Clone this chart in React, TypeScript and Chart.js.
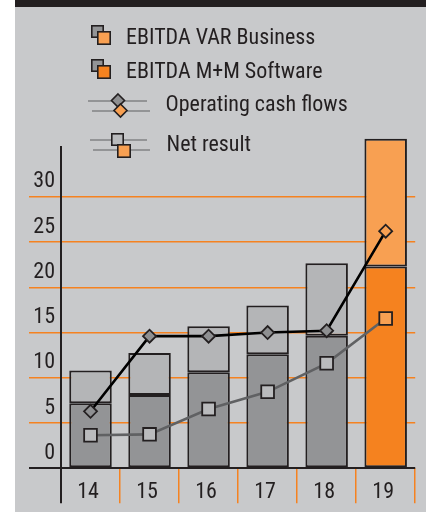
import React, { useEffect, useRef } from 'react';
import { Chart, registerables } from 'chart.js';

Chart.register(...registerables);

// ---- data ----
const YEARS = ['14', '15', '16', '17', '18', '19'];
const EBITDA_MM = [7.2, 8.1, 10.6, 12.6, 14.65, 22.3];
const EBITDA_VAR = [3.6, 4.65, 5.1, 5.4, 8.0, 14.1];
const OCF = [6.3, 14.6, 14.6, 15.0, 15.2, 26.2];
const NET_RESULT = [3.65, 3.75, 6.55, 8.45, 11.6, 16.55];
const Y_TICKS = [0, 5, 10, 15, 20, 25, 30];
const LABELS = ['EBITDA VAR Business', 'EBITDA M+M Software', 'Operating cash flows', 'Net result'];

// ---- styles ----
const DARK = '#231f20';
const BG = '#c8c9cb';
const GRAY_LIGHT = '#b4b5b7';
const GRAY_MID = '#939496';
const GRAY_LINE = '#606163';
const MARKER_GRAY = '#8e8f91';
const SQUARE_GRAY = '#babbbd';
const ORANGE = '#f5821f';
const ORANGE_LIGHT = '#f8a052';
const GRID_ORANGE = '#f58220';
const FAMILY = "Roboto, 'DejaVu Sans Condensed', sans-serif";
const STRETCH = 'condensed';
const CANVAS_FONT = `${STRETCH} 22px ${FAMILY}`;

const last = YEARS.length - 1;
const pick = (a: string, b: string) => YEARS.map((_, i) => (i === last ? b : a));

const decorPlugin = {
  id: 'decor',
  beforeDraw(chart: any) {
    const ctx = chart.ctx as CanvasRenderingContext2D;
    const W = chart.width;
    const H = chart.height;
    ctx.save();
    ctx.fillStyle = '#ffffff';
    ctx.fillRect(0, 0, W, H);
    ctx.fillStyle = BG;
    ctx.fillRect(15, 0, W - 15, H);
    ctx.fillStyle = DARK;
    ctx.fillRect(15, 0, W - 15, 7);
    ctx.restore();
  },
  afterDraw(chart: any) {
    const ctx = chart.ctx as CanvasRenderingContext2D;
    ctx.save();
    const sq = (x: number, y: number, s: number, fill: string) => {
      ctx.fillStyle = fill;
      ctx.fillRect(x, y, s, s);
      ctx.strokeStyle = DARK;
      ctx.lineWidth = 1.6;
      ctx.strokeRect(x + 0.8, y + 0.8, s - 1.6, s - 1.6);
    };
    const diamond = (cx: number, cy: number, r: number, fill: string) => {
      ctx.beginPath();
      ctx.moveTo(cx, cy - r);
      ctx.lineTo(cx + r, cy);
      ctx.lineTo(cx, cy + r);
      ctx.lineTo(cx - r, cy);
      ctx.closePath();
      ctx.fillStyle = fill;
      ctx.fill();
      ctx.strokeStyle = DARK;
      ctx.lineWidth = 1.6;
      ctx.stroke();
    };
    const hline = (x1: number, x2: number, y: number) => {
      ctx.beginPath();
      ctx.moveTo(x1, y);
      ctx.lineTo(x2, y);
      ctx.strokeStyle = GRAY_MID;
      ctx.lineWidth = 2;
      ctx.stroke();
    };
    // item 1
    sq(91, 25, 13, GRAY_MID);
    sq(97, 31, 14, ORANGE_LIGHT);
    // item 2
    sq(91, 59, 13, GRAY_MID);
    sq(97, 65, 14, ORANGE);
    // item 3
    hline(88, 147, 101);
    hline(92, 150, 111);
    diamond(118, 100.5, 6.5, MARKER_GRAY);
    diamond(120.5, 110.5, 6.5, ORANGE_LIGHT);
    // item 4
    hline(90, 147, 140);
    hline(93, 150, 150);
    sq(111, 133, 13, SQUARE_GRAY);
    sq(117, 144, 14, ORANGE_LIGHT);

    ctx.fillStyle = DARK;
    ctx.font = CANVAS_FONT;
    ctx.textAlign = 'left';
    ctx.textBaseline = 'alphabetic';
    ctx.fillText(LABELS[0], 126, 44);
    ctx.fillText(LABELS[1], 126, 77.5);
    ctx.fillText(LABELS[2], 165.5, 111);
    ctx.fillText(LABELS[3], 166.5, 150.5);
    ctx.restore();
  },
};

export default function App() {
  const ref = useRef<HTMLCanvasElement | null>(null);

  useEffect(() => {
    if (!ref.current) return;
    const tickFont = { family: FAMILY, size: 22, weight: STRETCH } as any;
    const chart = new Chart(ref.current, {
      type: 'bar',
      data: {
        labels: YEARS,
        datasets: [
          {
            type: 'line',
            label: LABELS[2],
            data: OCF,
            stack: 'ocf',
            order: 0,
            borderColor: '#000000',
            borderWidth: 2.6,
            pointStyle: 'rectRot',
            pointRadius: 6.5,
            pointBorderWidth: 1.8,
            pointBorderColor: DARK,
            pointBackgroundColor: pick(MARKER_GRAY, ORANGE_LIGHT),
            tension: 0,
          } as any,
          {
            type: 'line',
            label: LABELS[3],
            data: NET_RESULT,
            stack: 'net',
            order: 0,
            borderColor: GRAY_LINE,
            borderWidth: 2.6,
            pointStyle: 'rect',
            pointRadius: 9,
            pointBorderWidth: 1.8,
            pointBorderColor: DARK,
            pointBackgroundColor: pick(SQUARE_GRAY, ORANGE_LIGHT),
            tension: 0,
          } as any,
          {
            label: LABELS[1],
            data: EBITDA_MM,
            stack: 'ebitda',
            order: 1,
            backgroundColor: pick(GRAY_MID, ORANGE),
            borderColor: DARK,
            borderWidth: 2,
            borderSkipped: false,
            barPercentage: 0.72,
            categoryPercentage: 1,
            clip: false,
          } as any,
          {
            label: LABELS[0],
            data: EBITDA_VAR,
            stack: 'ebitda',
            order: 1,
            backgroundColor: pick(GRAY_LIGHT, ORANGE_LIGHT),
            borderColor: DARK,
            borderWidth: 2,
            borderSkipped: false,
            barPercentage: 0.72,
            categoryPercentage: 1,
            clip: false,
          } as any,
        ],
      },
      options: {
        responsive: false,
        animation: false,
        events: [],
        layout: { padding: { top: 147, right: 7, left: 0, bottom: 0 } },
        plugins: { legend: { display: false }, tooltip: { enabled: false } },
        scales: {
          x: {
            stacked: true,
            offset: true,
            afterFit: (axis: any) => {
              axis.height = 512 - 468.3;
              axis.paddingLeft = 0;
              axis.paddingRight = 0;
            },
            grid: {
              offset: true,
              drawOnChartArea: false,
              drawTicks: true,
              tickLength: 35,
              color: (c: any) => (c.index === 0 ? DARK : c.index >= YEARS.length ? 'rgba(0,0,0,0)' : GRID_ORANGE),
              lineWidth: (c: any) => (c.index === 0 ? 2 : 1.5),
            },
            border: { display: false },
            ticks: {
              color: DARK,
              font: tickFont,
              padding: -24.5,
              labelOffset: -2.5,
              maxRotation: 0,
            },
          },
          y: {
            stacked: true,
            min: 0,
            max: 35.5,
            afterFit: (axis: any) => {
              axis.width = 61;
              axis.paddingTop = 0;
              axis.paddingBottom = 0;
            },
            afterBuildTicks: (axis: any) => {
              axis.ticks = Y_TICKS.map((v) => ({ value: v }));
            },
            grid: {
              drawTicks: true,
              tickLength: 32,
              color: (c: any) => (c.tick && c.tick.value === 0 ? DARK : GRID_ORANGE),
              lineWidth: (c: any) => (c.tick && c.tick.value === 0 ? 2 : 1.5),
            },
            border: { display: true, color: DARK, width: 2 },
            ticks: {
              color: DARK,
              font: tickFont,
              padding: -26,
              labelOffset: -15,
            },
          },
        },
      },
      plugins: [decorPlugin],
    } as any);
    return () => chart.destroy();
  }, []);

  return (
    <div style={{ position: 'absolute', left: 0, top: 0, width: 426, height: 512 }}>
      <canvas ref={ref} width={426} height={512} style={{ display: 'block' }} />
    </div>
  );
}
